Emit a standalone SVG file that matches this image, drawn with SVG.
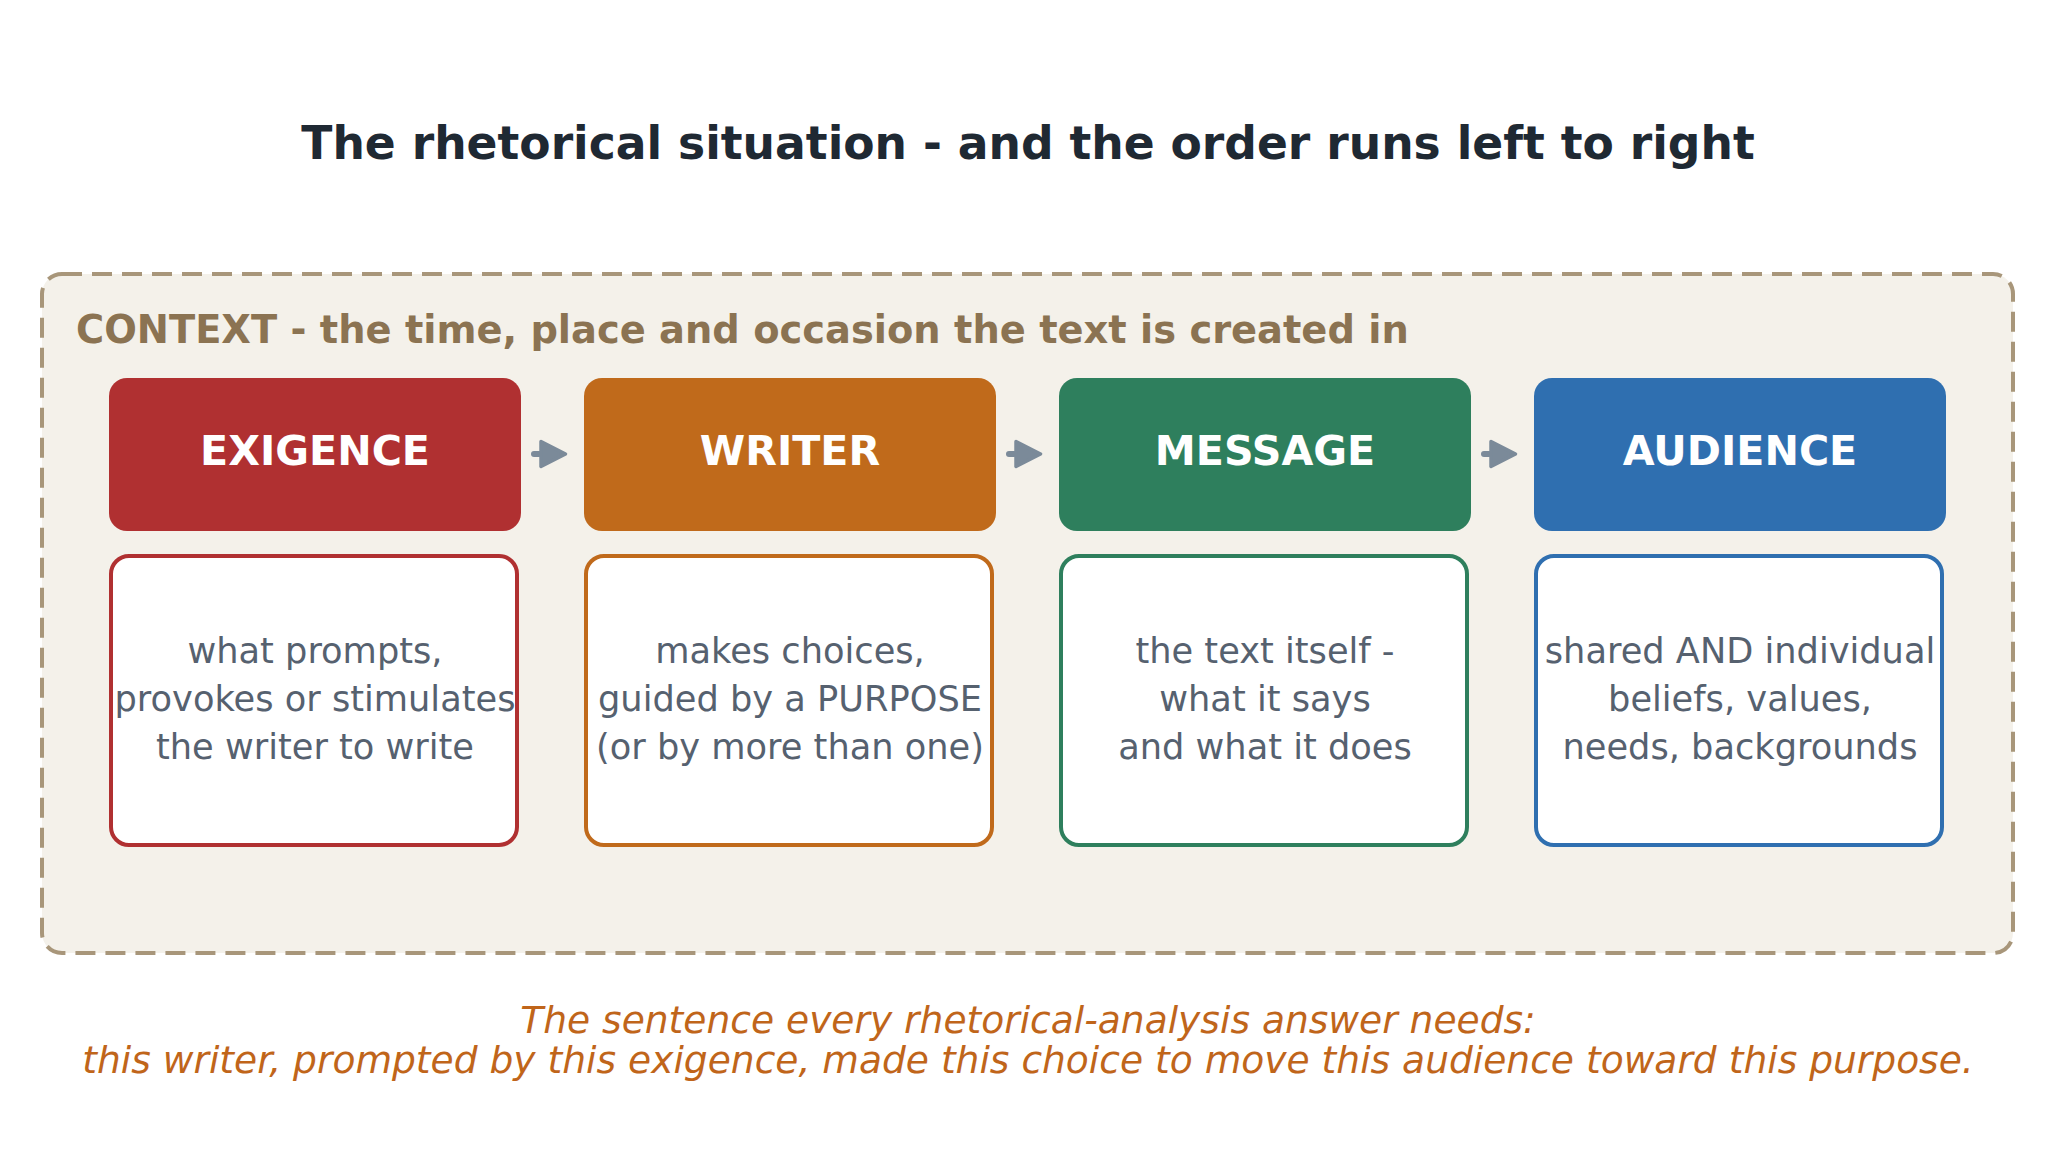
<svg xmlns="http://www.w3.org/2000/svg" width="2056" height="1175" viewBox="0 0 2056 1175">
  <defs>
    <style>
      text { font-family: "DejaVu Sans", "Liberation Sans", sans-serif; }
      .title { font-size: 45.6px; font-weight: bold; fill: #1f2933; text-anchor: middle; }
      .ctx { font-size: 38.4px; font-weight: bold; fill: #8b7352; }
      .head { font-size: 41.2px; font-weight: bold; fill: #ffffff; text-anchor: middle; }
      .desc { font-size: 35.2px; fill: #56616f; text-anchor: middle; }
      .foot { font-size: 37.6px; font-style: italic; fill: #c0651a; text-anchor: middle; }
      .hbox { stroke: none; }
      .dbox { fill: #ffffff; stroke-width: 4; }
      .conn { stroke: #7b8a99; stroke-width: 6; stroke-linecap: round; fill: none; }
    </style>
    <marker id="arrow" viewBox="0 0 28 28" markerUnits="userSpaceOnUse" markerWidth="28" markerHeight="28" refX="0" refY="14" orient="auto" overflow="visible">
      <path d="M2,1.5 L26.5,14 L2,26.5 Z" fill="#7b8a99" stroke="#7b8a99" stroke-width="3.5" stroke-linejoin="round"/>
    </marker>
  </defs>

  <rect width="2056" height="1175" fill="#ffffff"/>

  <text class="title" x="1028" y="159">The rhetorical situation - and the order runs left to right</text>

  <g id="context">
    <rect x="42" y="274" width="1971" height="679" rx="20" ry="20" fill="#f4f1ea" stroke="#a8967a" stroke-width="4" stroke-dasharray="20 10"/>
    <text class="ctx" x="76" y="343">CONTEXT - the time, place and occasion the text is created in</text>
  </g>

  <g id="exigence">
    <rect class="hbox" x="109" y="378" width="412" height="153" rx="18" ry="18" fill="#b03031"/>
    <text class="head" x="315" y="465">EXIGENCE</text>
    <rect class="dbox" x="111" y="556" width="406" height="289" rx="18" ry="18" stroke="#b03031"/>
    <text class="desc" x="315" y="663">what prompts,</text>
    <text class="desc" x="315" y="711">provokes or stimulates</text>
    <text class="desc" x="315" y="759">the writer to write</text>
  </g>

  <g id="writer">
    <rect class="hbox" x="584" y="378" width="412" height="153" rx="18" ry="18" fill="#c06a1b"/>
    <text class="head" x="790" y="465">WRITER</text>
    <rect class="dbox" x="586" y="556" width="406" height="289" rx="18" ry="18" stroke="#c06a1b"/>
    <text class="desc" x="790" y="663">makes choices,</text>
    <text class="desc" x="790" y="711">guided by a PURPOSE</text>
    <text class="desc" x="790" y="759">(or by more than one)</text>
  </g>

  <g id="message">
    <rect class="hbox" x="1059" y="378" width="412" height="153" rx="18" ry="18" fill="#2e7f5d"/>
    <text class="head" x="1265" y="465">MESSAGE</text>
    <rect class="dbox" x="1061" y="556" width="406" height="289" rx="18" ry="18" stroke="#2e7f5d"/>
    <text class="desc" x="1265" y="663">the text itself -</text>
    <text class="desc" x="1265" y="711">what it says</text>
    <text class="desc" x="1265" y="759">and what it does</text>
  </g>

  <g id="audience">
    <rect class="hbox" x="1534" y="378" width="412" height="153" rx="18" ry="18" fill="#2f6fb0"/>
    <text class="head" x="1740" y="465">AUDIENCE</text>
    <rect class="dbox" x="1536" y="556" width="406" height="289" rx="18" ry="18" stroke="#2f6fb0"/>
    <text class="desc" x="1740" y="663">shared AND individual</text>
    <text class="desc" x="1740" y="711">beliefs, values,</text>
    <text class="desc" x="1740" y="759">needs, backgrounds</text>
  </g>

  <g id="connectors">
    <line class="conn" x1="534" y1="454" x2="539" y2="454" marker-end="url(#arrow)"/>
    <line class="conn" x1="1009" y1="454" x2="1014" y2="454" marker-end="url(#arrow)"/>
    <line class="conn" x1="1484" y1="454" x2="1489" y2="454" marker-end="url(#arrow)"/>
  </g>

  <g id="footer">
    <text class="foot" x="1028" y="1033">The sentence every rhetorical-analysis answer needs:</text>
    <text class="foot" x="1028" y="1073">this writer, prompted by this exigence, made this choice to move this audience toward this purpose.</text>
  </g>
</svg>
